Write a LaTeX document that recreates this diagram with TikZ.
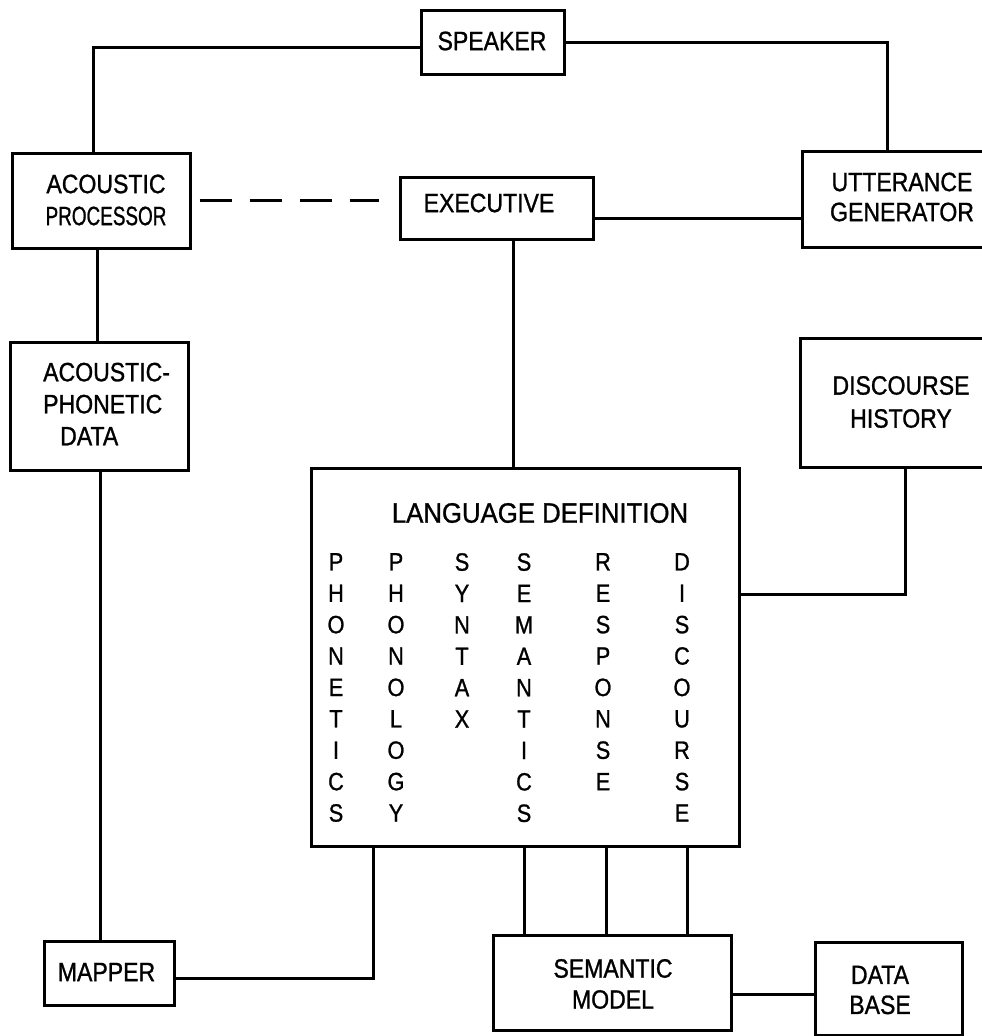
\documentclass[tikz,border=0pt]{standalone}
\usepackage{fontspec}
\usepackage{graphicx}
\setmainfont{Liberation Sans}[FakeStretch=0.87, FakeBold=1]
\newfontfamily\titlefont{Liberation Sans}[FakeStretch=0.92, FakeBold=1]
\begin{document}
\begin{tikzpicture}[x=1pt, y=-1pt,
  box/.style={draw, rectangle, line width=3pt, inner sep=0pt},
  lbl/.style={align=center, inner sep=0pt, font=\fontsize{26.5}{32}\selectfont},
  letters/.style={align=center, inner sep=0pt, anchor=north,
                  font=\fontsize{25}{31.4}\selectfont},
  link/.style={line width=3pt},
  dashlink/.style={line width=3pt, dash pattern=on 32pt off 18pt,
                   shorten <=8pt, shorten >=20pt}]
\useasboundingbox (0,0) rectangle (982,1036);
\fill[white] (0,0) rectangle (982,1036);
\clip (0,0) rectangle (982,1036);

% boxes
\node[box, minimum width=143pt, minimum height=64pt]  (speaker) at (492.5,42) {};
\node[box, minimum width=178pt, minimum height=95pt]  (ap)      at (101,200.5) {};
\node[box, minimum width=193pt, minimum height=62pt]  (exec)    at (496.5,208) {};
\node[box, minimum width=200pt, minimum height=96pt]  (ug)      at (902,199) {};
\node[box, minimum width=178pt, minimum height=128pt] (apd)     at (99,406) {};
\node[box, minimum width=202pt, minimum height=129pt] (dh)      at (901,402.5) {};
\node[box, minimum width=428pt, minimum height=378pt] (ld)      at (525,657) {};
\node[box, minimum width=130pt, minimum height=64pt]  (mapper)  at (109,973) {};
\node[box, minimum width=238pt, minimum height=95pt]  (sm)      at (612,982.5) {};
\node[box, minimum width=147pt, minimum height=93pt]  (db)      at (888.5,988.5) {};

% box labels
\node[lbl] (speaker-t) at (492,41) {SPEAKER};
\node[lbl] (ap-t) at (106,200) {ACOUSTIC\\\scalebox{0.82}[1]{PROCESSOR}};
\node[lbl] (exec-t) at (489,203) {EXECUTIVE};
\node[lbl, font=\fontsize{26.5}{30}\selectfont] (ug-t) at (902,197) {UTTERANCE\\GENERATOR};
\node[lbl, align=left, anchor=west] (apd-t) at (43,404) {ACOUSTIC-\\PHONETIC\\\hspace*{17pt}DATA};
\node[lbl, font=\fontsize{26.5}{33}\selectfont] (dh-t) at (901,402) {DISCOURSE\\HISTORY};
\node[lbl] (mapper-t) at (106.5,972) {MAPPER};
\node[lbl, font=\fontsize{26.5}{31}\selectfont] (sm-t) at (613,984) {SEMANTIC\\MODEL};
\node[lbl, font=\fontsize{26.5}{30}\selectfont] (db-t) at (880,990) {DATA\\BASE};

% language definition contents
\node[inner sep=0pt, font=\titlefont\fontsize{28}{32}\selectfont] (ld-title) at (540,513) {LANGUAGE DEFINITION};
\node[letters] (c-phonetics) at (336,553) {P\\H\\O\\N\\E\\T\\I\\C\\S};
\node[letters] (c-phonology) at (396,553) {P\\H\\O\\N\\O\\L\\O\\G\\Y};
\node[letters] (c-syntax)    at (462,553) {S\\Y\\N\\T\\A\\X};
\node[letters] (c-semantics) at (524,553) {S\\E\\M\\A\\N\\T\\I\\C\\S};
\node[letters] (c-response)  at (603,553) {R\\E\\S\\P\\O\\N\\S\\E};
\node[letters] (c-discourse) at (682,553) {D\\I\\S\\C\\O\\U\\R\\S\\E};

% connectors
\draw[link] ([yshift=-5pt]speaker.west) -| ([xshift=-8pt]ap.north);
\draw[link] (speaker.east) -| ([xshift=-15pt]ug.north);
\draw[dashlink] (ap.east) -- (ap.east -| exec.west);
\draw[link] ([yshift=-10pt]exec.east) -- ([yshift=-10pt]exec.east -| ug.west);
\draw[link] ([xshift=16.5pt]exec.south) -- ([xshift=16.5pt]exec.south |- ld.north);
\draw[link] ([xshift=-4pt]ap.south) -- ([xshift=-4pt]ap.south |- apd.north);
\draw[link] ([xshift=1pt]apd.south) -- ([xshift=1pt]apd.south |- mapper.north);
\draw[link] ([yshift=-5pt]mapper.east) -| ([xshift=-152pt]ld.south);
\foreach \s in {-1,81,162}
  \draw[link] ([xshift=\s pt]ld.south) -- ([xshift=\s pt]ld.south |- sm.north);
\draw[link] ([yshift=-11.5pt]sm.east) -- ([yshift=-11.5pt]sm.east -| db.west);
\draw[link] ([yshift=63pt]ld.east) -| ([xshift=4pt]dh.south);
\end{tikzpicture}
\end{document}
